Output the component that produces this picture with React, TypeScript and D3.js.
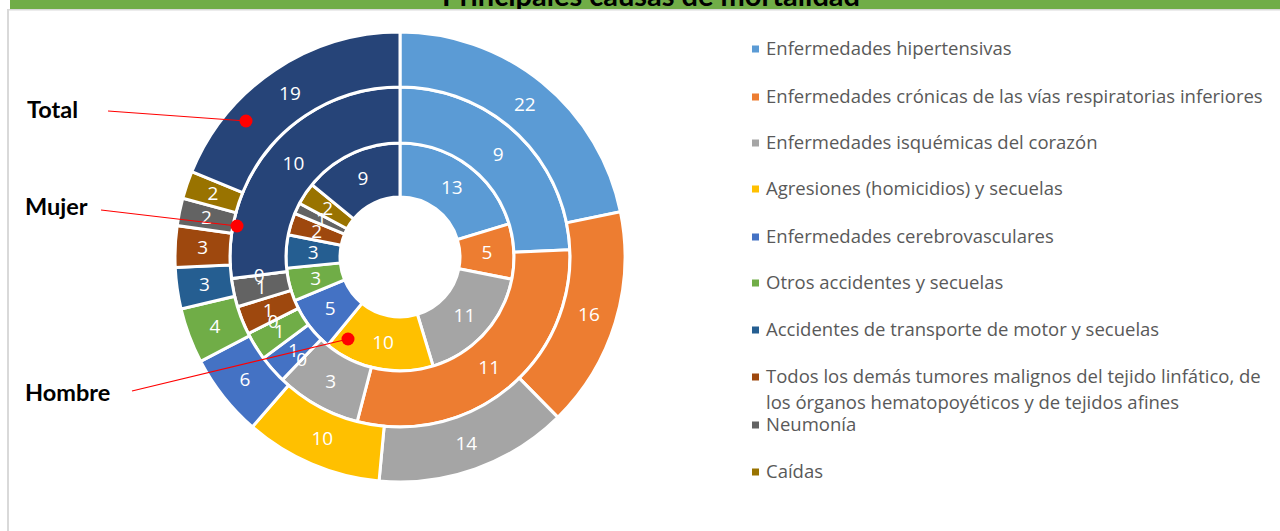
import React from "react";
import * as d3 from "d3";

const categories = [
  "Enfermedades hipertensivas",
  "Enfermedades crónicas de las vías respiratorias inferiores",
  "Enfermedades isquémicas del corazón",
  "Agresiones (homicidios) y secuelas",
  "Enfermedades cerebrovasculares",
  "Otros accidentes y secuelas",
  "Accidentes de transporte de motor y secuelas",
  "Todos los demás tumores malignos del tejido linfático, de los órganos hematopoyéticos y de tejidos afines",
  "Neumonía",
  "Caídas",
  "Otras causas",
];
const colors = [
  "#5B9BD5", "#ED7D31", "#A5A5A5", "#FFC000", "#4472C4", "#70AD47",
  "#255E91", "#9E480E", "#636363", "#997300", "#264478",
];
const hombre = [13, 5, 11, 10, 5, 3, 3, 2, 1, 2, 9];
const mujer = [9, 11, 3, 0, 1, 1, 0, 1, 1, 0, 10];
const total = [22, 16, 14, 10, 6, 4, 3, 3, 2, 2, 19];
const legendLines = [
  ["Enfermedades hipertensivas"],
  ["Enfermedades crónicas de las vías respiratorias inferiores"],
  ["Enfermedades isquémicas del corazón"],
  ["Agresiones (homicidios) y secuelas"],
  ["Enfermedades cerebrovasculares"],
  ["Otros accidentes y secuelas"],
  ["Accidentes de transporte de motor y secuelas"],
  ["Todos los demás tumores malignos del tejido linfático, de", "los órganos hematopoyéticos y de tejidos afines"],
  ["Neumonía"],
  ["Caídas"],
];
const legendY = [49, 97, 143, 189, 237, 283, 330, 377, 425, 472];
const title = "Principales causas de mortalidad";

const rings = [
  { name: "Hombre", values: hombre, r0: 60, r1: 114, label: { x: 25, y: 401, lx: 132, ly: 391, px: 348, py: 339 } },
  { name: "Mujer", values: mujer, r0: 114, r1: 170, label: { x: 25, y: 215, lx: 101, ly: 210, px: 237, py: 226 } },
  { name: "Total", values: total, r0: 170, r1: 225, label: { x: 27, y: 118, lx: 108, ly: 111, px: 246, py: 121 } },
];

export default function App() {
  const cx = 400, cy = 257;
  const pie = d3.pie<number>().sort(null).value((d) => d).startAngle(0).endAngle(2 * Math.PI);
  const font = "'Open Sans', Lato, sans-serif";
  const boldFont = "Lato, 'Open Sans', sans-serif";
  return (
    <svg width={1280} height={531} style={{ position: "absolute", left: 0, top: 0, background: "#fff" }}>
      <rect x={0} y={0} width={1280} height={531} fill="#fff" />
      <rect x={10} y={0} width={1270} height={9} fill="#70AD47" />
      <clipPath id="tclip"><rect x={0} y={0} width={1280} height={9} /></clipPath>
      <text x={651} y={6} textAnchor="middle" fontFamily={boldFont} fontWeight={700} fontSize={29} fill="#000" clipPath="url(#tclip)">{title}</text>
      <rect x={7} y={9} width={1273} height={1.5} fill="#d9d9d9" />
      <rect x={7} y={9} width={2} height={522} fill="#d9d9d9" />
      <g transform={`translate(${cx},${cy})`}>
        {rings.map((ring) => {
          const arcs = pie(ring.values);
          const arc = d3.arc<d3.PieArcDatum<number>>().innerRadius(ring.r0).outerRadius(ring.r1);
          return (
            <g key={ring.name}>
              {arcs.map((a, i) => (
                <path key={i} d={arc(a) || ""} fill={colors[i]} stroke="#fff" strokeWidth={3} />
              ))}
            </g>
          );
        })}
        {rings.map((ring) => {
          const arcs = pie(ring.values);
          const arc = d3.arc<d3.PieArcDatum<number>>().innerRadius(ring.r0).outerRadius(ring.r1);
          return (
            <g key={ring.name + "l"}>
              {arcs.map((a, i) => {
                const [x, y] = arc.centroid(a);
                return (
                  <text key={i} x={x} y={y} dy="0.35em" textAnchor="middle" fontFamily={font} fontSize={19} fill="#fff">
                    {ring.values[i]}
                  </text>
                );
              })}
            </g>
          );
        })}
      </g>
      {rings.map((ring) => (
        <g key={ring.name + "a"}>
          <line x1={ring.label.lx} y1={ring.label.ly} x2={ring.label.px} y2={ring.label.py} stroke="#FF0000" strokeWidth={1.2} />
          <circle cx={ring.label.px} cy={ring.label.py} r={6.5} fill="#FF0000" />
          <text x={ring.label.x} y={ring.label.y} fontFamily={boldFont} fontWeight={700} fontSize={23.5} fill="#000">{ring.name}</text>
        </g>
      ))}
      <g>
        {legendLines.map((lines, i) => (
          <g key={i}>
            <rect x={752} y={legendY[i] - 3.5} width={7} height={7} fill={colors[i]} />
            {lines.map((t, j) => (
              <text key={j} x={766} y={legendY[i] + j * 26} dy="0.35em" fontFamily={font} fontSize={18.5} fill="#595959">{t}</text>
            ))}
          </g>
        ))}
      </g>
    </svg>
  );
}
